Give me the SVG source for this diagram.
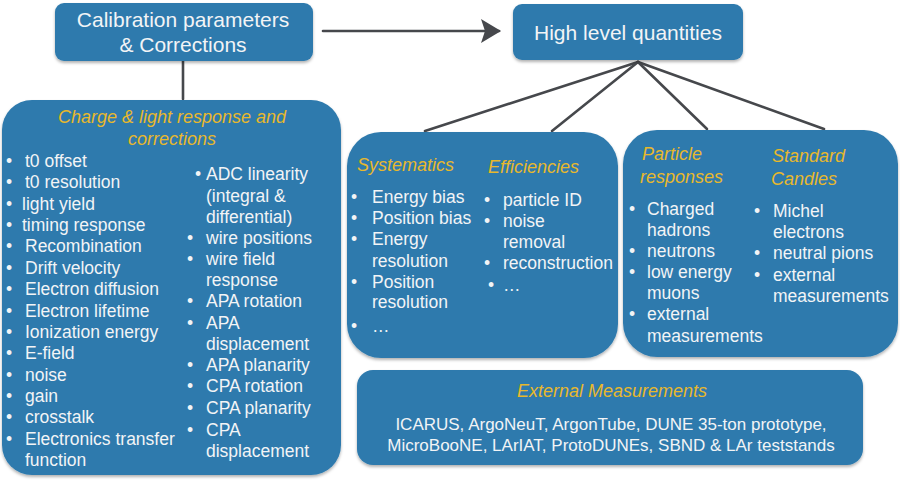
<svg xmlns="http://www.w3.org/2000/svg" width="900" height="480" viewBox="0 0 900 480">
<defs>
<filter id="sh" x="-5%" y="-5%" width="110%" height="115%">
<feDropShadow dx="0" dy="2" stdDeviation="1.5" flood-color="#000" flood-opacity="0.3"/>
</filter>
<marker id="ah" viewBox="0 0 20 24" refX="18" refY="12" markerWidth="20" markerHeight="24" markerUnits="userSpaceOnUse" orient="auto">
<path d="M0,0 L20,12 L0,24 L4,12 Z" fill="#46484c"/>
</marker>
<style>
.box{fill:#2e7aad;filter:url(#sh)}
text{font-family:"Liberation Sans",Arial,sans-serif;fill:#f2f4f6}
.t{font-size:21px;text-anchor:middle}
.h{font-size:18px;font-style:italic;fill:#e8b82c}
.i{font-size:17.5px}
.b{font-size:17px}
.c{text-anchor:middle}
.ln{stroke:#46484c;stroke-width:2.6;fill:none;stroke-linecap:round}
</style>
</defs>
<rect width="900" height="480" fill="#ffffff"/>
<g id="connectors">
<line class="ln" x1="183" y1="61" x2="183" y2="99" stroke-width="3"/>
<line class="ln" x1="323" y1="31" x2="499" y2="31" stroke-width="3.4" marker-end="url(#ah)"/>
<line class="ln" x1="638" y1="62" x2="425" y2="131"/>
<line class="ln" x1="638" y1="62" x2="552" y2="131"/>
<line class="ln" x1="638" y1="62" x2="707" y2="129"/>
<line class="ln" x1="638" y1="62" x2="824" y2="129"/>
</g>
<g id="calib">
<rect class="box" x="55" y="3" width="258" height="58" rx="9"/>
<text class="t" x="183" y="27">Calibration parameters</text>
<text class="t" x="183" y="52">&amp; Corrections</text>
</g>
<g id="high">
<rect class="box" x="513" y="4" width="230" height="56" rx="9"/>
<text class="t" x="628" y="40">High level quantities</text>
</g>
<g id="charge">
<rect class="box" x="2" y="100" width="339" height="375" rx="30"/>
<text class="h c" x="172" y="123">Charge &amp; light response and</text>
<text class="h c" x="172" y="145">corrections</text>
<g class="i">
<text x="6" y="167">•</text><text x="25" y="167">t0 offset</text>
<text x="6" y="188">•</text><text x="25" y="188">t0 resolution</text>
<text x="6" y="210">•</text><text x="22" y="210">light yield</text>
<text x="6" y="231">•</text><text x="22" y="231">timing response</text>
<text x="6" y="252">•</text><text x="25" y="252">Recombination</text>
<text x="6" y="274">•</text><text x="25" y="274">Drift velocity</text>
<text x="6" y="295">•</text><text x="25" y="295">Electron diffusion</text>
<text x="6" y="317">•</text><text x="25" y="317">Electron lifetime</text>
<text x="6" y="338">•</text><text x="25" y="338">Ionization energy</text>
<text x="6" y="359">•</text><text x="25" y="359">E-field</text>
<text x="6" y="381">•</text><text x="25" y="381">noise</text>
<text x="6" y="402">•</text><text x="25" y="402">gain</text>
<text x="6" y="423">•</text><text x="25" y="423">crosstalk</text>
<text x="6" y="445">•</text><text x="25" y="445">Electronics transfer</text>
<text x="25" y="466">function</text>
<text x="195" y="180">•</text><text x="206" y="180">ADC linearity</text>
<text x="206" y="202">(integral &amp;</text>
<text x="206" y="223">differential)</text>
<text x="187" y="244">•</text><text x="206" y="244">wire positions</text>
<text x="187" y="265">•</text><text x="206" y="265">wire field</text>
<text x="206" y="286">response</text>
<text x="187" y="307">•</text><text x="206" y="307">APA rotation</text>
<text x="187" y="329">•</text><text x="206" y="329">APA</text>
<text x="206" y="350">displacement</text>
<text x="187" y="371">•</text><text x="206" y="371">APA planarity</text>
<text x="187" y="392">•</text><text x="206" y="392">CPA rotation</text>
<text x="187" y="414">•</text><text x="206" y="414">CPA planarity</text>
<text x="187" y="436">•</text><text x="206" y="436">CPA</text>
<text x="206" y="457">displacement</text>
</g>
</g>
<g id="systematics">
<rect class="box" x="347" y="132" width="271" height="226" rx="34"/>
<text class="h" x="357" y="171">Systematics</text>
<text class="h" x="488" y="173">Efficiencies</text>
<g class="i">
<text x="351" y="203">•</text><text x="372" y="203">Energy bias</text>
<text x="351" y="224">•</text><text x="372" y="224">Position bias</text>
<text x="351" y="245">•</text><text x="372" y="245">Energy</text>
<text x="372" y="267">resolution</text>
<text x="351" y="288">•</text><text x="372" y="288">Position</text>
<text x="372" y="308">resolution</text>
<text x="351" y="332">•</text><text x="372" y="332">…</text>
<text x="484" y="206">•</text><text x="503" y="206">particle ID</text>
<text x="484" y="227">•</text><text x="503" y="227">noise</text>
<text x="503" y="248">removal</text>
<text x="484" y="269">•</text><text x="503" y="269">reconstruction</text>
<text x="488" y="291">•</text><text x="503" y="291">…</text>
</g>
</g>
<g id="particle">
<rect class="box" x="623" y="130" width="275" height="227" rx="34"/>
<text class="h" x="642" y="160">Particle</text>
<text class="h" x="640" y="183">responses</text>
<text class="h" x="772" y="162">Standard</text>
<text class="h" x="771" y="185">Candles</text>
<g class="i">
<text x="629" y="215">•</text><text x="647" y="215">Charged</text>
<text x="647" y="236">hadrons</text>
<text x="629" y="257">•</text><text x="647" y="257">neutrons</text>
<text x="629" y="278">•</text><text x="647" y="278">low energy</text>
<text x="647" y="299">muons</text>
<text x="629" y="320">•</text><text x="647" y="320">external</text>
<text x="647" y="342">measurements</text>
<text x="754" y="217">•</text><text x="773" y="217">Michel</text>
<text x="773" y="238">electrons</text>
<text x="754" y="259">•</text><text x="773" y="259">neutral pions</text>
<text x="754" y="281">•</text><text x="773" y="281">external</text>
<text x="773" y="302">measurements</text>
</g>
</g>
<g id="external">
<rect class="box" x="357" y="370" width="506" height="95" rx="16"/>
<text class="h c" x="612" y="397">External Measurements</text>
<text class="b c" x="611" y="430">ICARUS, ArgoNeuT, ArgonTube, DUNE 35-ton prototype,</text>
<text class="b c" x="611" y="451">MicroBooNE, LArIAT, ProtoDUNEs, SBND &amp; LAr teststands</text>
</g>
</svg>
